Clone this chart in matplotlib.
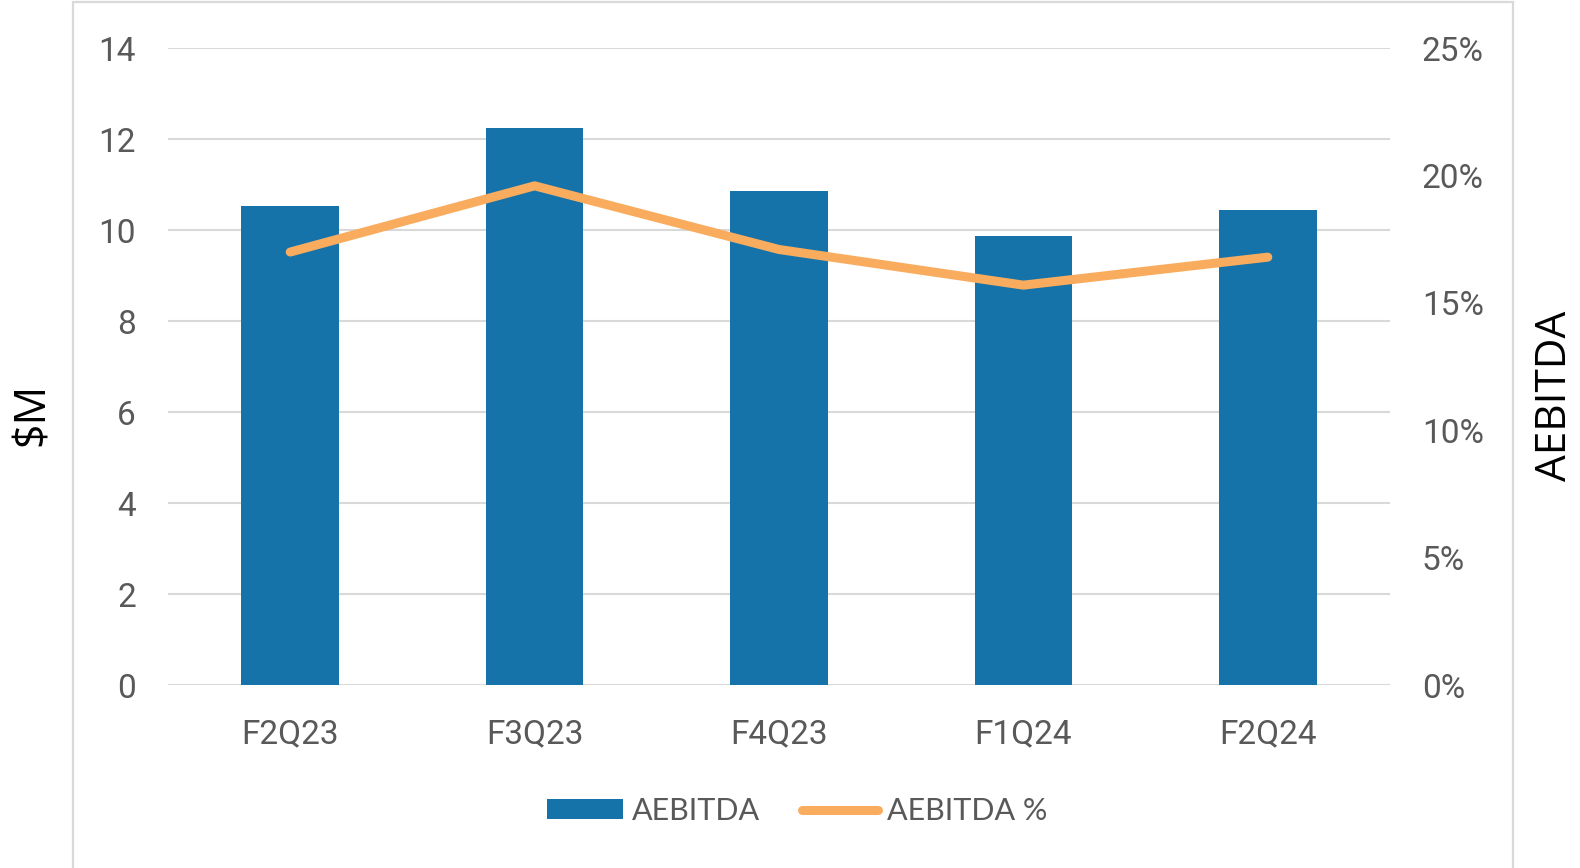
import matplotlib.pyplot as plt
from matplotlib.lines import Line2D
from matplotlib.patches import Patch, Rectangle
from matplotlib.ticker import FuncFormatter

quarters = ["F2Q23", "F3Q23", "F4Q23", "F1Q24", "F2Q24"]
aebitda = [10.53, 12.24, 10.87, 9.88, 10.44]          # $M
aebitda_pct = [17.0, 19.6, 17.1, 15.7, 16.8]            # %

bar_color = "#1573AA"
line_color = "#F9AC5E"
tick_color = "#595959"
grid_color = "#D9D9D9"

plt.rcParams["font.family"] = ["Roboto", "DejaVu Sans"]

fig = plt.figure(figsize=(15.8, 8.68), dpi=100)
# light frame around the whole chart
fig.patches.append(Rectangle((73 / 1580, -2 / 868), (1513 - 73) / 1580, (866 + 2) / 868,
                             transform=fig.transFigure, fill=False,
                             edgecolor=grid_color, linewidth=1.6))

ax = fig.add_axes([168 / 1580, 1 - 685 / 868, (1390 - 168) / 1580, (685 - 48.3) / 868])
x = range(len(quarters))
ax.bar(x, aebitda, width=0.4, color=bar_color, zorder=2)
ax.set_xlim(-0.5, 4.5)
ax.set_ylim(0, 14)
ax.set_yticks(range(0, 15, 2))
ax.set_xticks(list(x))
ax.set_xticklabels(quarters)
ax.grid(axis="y", color=grid_color, linewidth=1.5, zorder=0)
ax.set_axisbelow(True)
for s in ax.spines.values():
    s.set_visible(False)
ax.tick_params(axis="both", length=0, labelsize=24, colors=tick_color)
ax.tick_params(axis="y", pad=23)
ax.tick_params(axis="x", pad=24)

ax2 = ax.twinx()
ax2.plot(x, aebitda_pct, color=line_color, linewidth=6.5, solid_capstyle="round", zorder=3)
ax2.set_ylim(0, 25)
ax2.set_yticks(range(0, 26, 5))
ax2.yaxis.set_major_formatter(FuncFormatter(lambda v, p: f"{v:.0f}%"))
for s in ax2.spines.values():
    s.set_visible(False)
ax2.tick_params(axis="y", length=0, labelsize=24, colors=tick_color, pad=23)

fig.text(33 / 1580, 1 - 414 / 868, "$M", rotation=90, ha="center", va="center",
         fontsize=31, color="black", family=["Open Sans", "DejaVu Sans"])
fig.text(1555 / 1580, 1 - 396 / 868, "AEBITDA", rotation=90, ha="center", va="center",
         fontsize=30.5, color="black", family=["Open Sans", "DejaVu Sans"])

handles = [Patch(facecolor=bar_color, label="AEBITDA"),
           Line2D([], [], color=line_color, linewidth=6.5, solid_capstyle="round", label="AEBITDA %")]
fig.legend(handles=handles, loc="center", bbox_to_anchor=(797 / 1580, 1 - 811 / 868), ncol=2,
           frameon=False, handlelength=2.5, handleheight=0.65, handletextpad=0.3,
           columnspacing=1.35,
           prop={"family": ["Lato", "DejaVu Sans"], "size": 22},
           labelcolor=tick_color)

fig.savefig("out.png", dpi=100)
